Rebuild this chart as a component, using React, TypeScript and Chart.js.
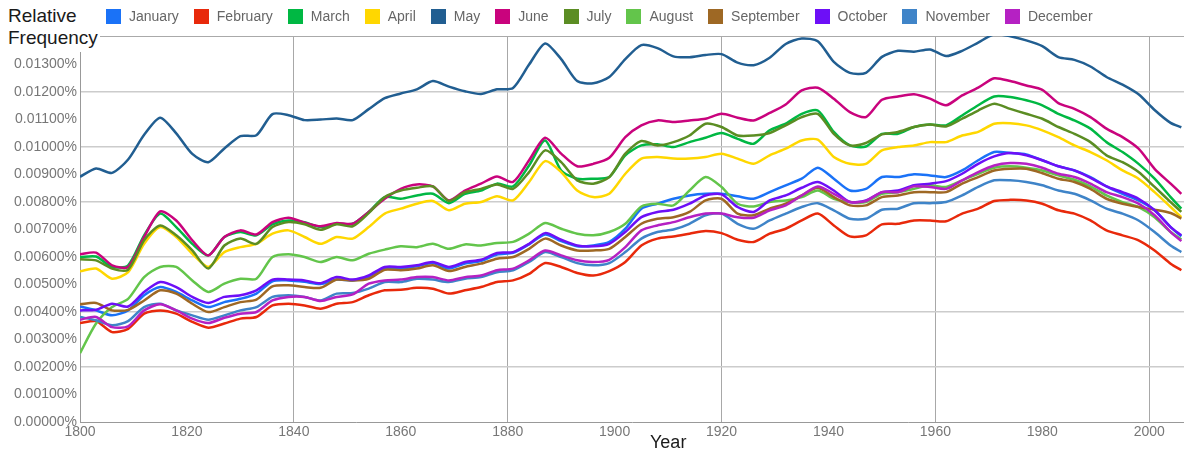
import React, { useEffect, useRef } from 'react';
import { Chart, registerables } from 'chart.js';

Chart.register(...registerables);

// Values are in units of 0.001 % (relative frequency)
const years = [1800,1803,1806,1809,1812,1815,1818,1821,1824,1827,1830,1833,1836,1839,1842,1845,1848,1851,1854,1857,1860,1863,1866,1869,1872,1875,1878,1881,1884,1887,1890,1893,1896,1899,1902,1905,1908,1911,1914,1917,1920,1923,1926,1929,1932,1935,1938,1941,1944,1947,1950,1953,1956,1959,1962,1965,1968,1971,1974,1977,1980,1983,1986,1989,1992,1995,1998,2001,2004,2006];

const january = [4.2,4.06,3.88,4.06,4.61,4.91,4.73,4.42,4.18,4.36,4.48,4.67,5.12,5.15,5.1,5.02,5.18,5.15,
  5.27,5.58,5.58,5.66,5.78,5.58,5.76,5.85,6.09,6.15,6.46,6.82,6.58,6.39,6.42,6.55,7.03,
  7.76,7.94,8.12,8.24,8.3,8.3,8.21,8.12,8.36,8.61,8.85,9.25,8.85,8.42,8.48,8.91,8.91,9.01,
  8.97,8.91,9.15,9.52,9.82,9.78,9.73,9.52,9.3,9.15,8.91,8.57,8.3,8.06,7.7,7.09,6.75];
const february = [3.6,3.67,3.27,3.39,3.94,4.06,3.94,3.64,3.43,3.58,3.76,3.82,4.24,4.3,4.24,4.12,4.3,4.36,
  4.61,4.79,4.81,4.88,4.85,4.67,4.79,4.91,5.09,5.15,5.39,5.78,5.64,5.42,5.33,5.49,5.82,
  6.42,6.67,6.75,6.85,6.95,6.87,6.63,6.55,6.85,7.03,7.33,7.58,7.15,6.75,6.79,7.19,7.21,7.33,
  7.33,7.3,7.58,7.76,8.04,8.08,8.06,7.94,7.7,7.58,7.33,6.97,6.79,6.61,6.24,5.76,5.52];
const march = [6.0,6.02,5.64,5.7,6.79,7.58,7.09,6.48,6.06,6.73,6.91,6.79,7.19,7.33,7.27,7.09,7.21,7.21,
  7.64,8.18,8.12,8.24,8.3,7.96,8.3,8.42,8.67,8.57,9.33,10.24,9.15,8.85,8.85,8.91,9.7,
  10.06,10.1,10.0,10.18,10.34,10.51,10.3,10.12,10.61,10.85,11.21,11.33,10.55,10.06,10.02,10.48,10.48,10.73,
  10.82,10.79,11.15,11.52,11.84,11.82,11.7,11.52,11.21,10.97,10.67,10.18,9.82,9.39,8.85,8.18,7.76];
const april = [5.48,5.58,5.21,5.45,6.48,7.09,6.73,6.12,5.64,6.18,6.36,6.48,6.85,6.97,6.73,6.48,6.73,6.67,
  7.09,7.58,7.76,7.94,8.04,7.7,7.94,8.0,8.21,8.06,8.73,9.49,9.09,8.42,8.18,8.3,9.03,
  9.58,9.64,9.58,9.58,9.64,9.76,9.58,9.39,9.7,9.94,10.24,10.27,9.64,9.39,9.39,9.88,10.0,10.06,
  10.18,10.18,10.42,10.55,10.85,10.87,10.79,10.61,10.36,10.06,9.82,9.52,9.15,8.85,8.36,7.82,7.45];
const may = [8.92,9.22,9.06,9.55,10.45,11.07,10.5,9.75,9.45,9.95,10.4,10.43,11.2,11.16,10.98,11.0,11.04,10.98,
  11.38,11.78,11.95,12.1,12.4,12.2,12.03,11.93,12.1,12.15,13.0,13.77,13.2,12.4,12.32,12.55,13.2,
  13.71,13.6,13.3,13.27,13.35,13.38,13.07,12.98,13.25,13.75,13.95,13.85,13.1,12.7,12.7,13.28,13.5,13.47,
  13.55,13.31,13.5,13.8,14.1,14.03,13.88,13.67,13.27,13.17,12.93,12.55,12.27,11.92,11.35,10.88,10.72];
const june = [6.1,6.16,5.7,5.64,6.73,7.66,7.33,6.61,6.06,6.73,6.97,6.82,7.27,7.43,7.25,7.12,7.24,7.21,
  7.64,8.12,8.48,8.64,8.57,8.06,8.42,8.67,8.93,8.73,9.52,10.34,9.76,9.3,9.39,9.61,10.36,
  10.79,10.97,10.91,10.97,11.03,11.21,11.07,10.97,11.24,11.55,12.06,12.16,11.76,11.27,11.09,11.72,11.84,11.92,
  11.76,11.52,11.88,12.16,12.5,12.4,12.24,12.08,11.6,11.39,11.09,10.67,10.36,9.94,9.21,8.67,8.3];
const july = [5.92,5.88,5.58,5.54,6.61,7.15,6.79,6.24,5.58,6.42,6.67,6.48,7.09,7.27,7.19,6.99,7.19,7.12,
  7.6,8.18,8.42,8.52,8.57,8.04,8.36,8.48,8.64,8.48,9.09,9.88,9.45,8.79,8.67,8.91,9.76,
  10.22,10.06,10.18,10.42,10.85,10.73,10.42,10.42,10.51,10.79,11.09,11.21,10.48,10.06,10.15,10.46,10.55,10.73,
  10.82,10.75,11.03,11.33,11.58,11.39,11.21,11.03,10.73,10.48,10.18,9.7,9.45,9.09,8.55,8.0,7.64];
const august = [2.5,3.58,4.18,4.48,5.27,5.64,5.64,5.15,4.73,5.03,5.21,5.21,6.0,6.1,6.0,5.82,6.0,5.88,
  6.12,6.27,6.39,6.36,6.48,6.3,6.46,6.42,6.51,6.55,6.85,7.24,7.03,6.85,6.79,6.91,7.21,
  7.84,7.94,7.88,8.42,8.91,8.55,7.94,7.84,8.0,8.06,8.18,8.42,8.12,8.0,8.0,8.3,8.36,8.48,
  8.61,8.55,8.79,9.03,9.25,9.3,9.25,9.15,8.97,8.81,8.57,8.24,8.0,7.82,7.45,6.91,6.64];
const september = [4.28,4.33,4.06,4.08,4.42,4.79,4.67,4.3,4.0,4.18,4.36,4.45,4.93,4.97,4.91,4.88,5.18,5.15,
  5.21,5.54,5.52,5.58,5.7,5.49,5.64,5.76,5.94,6.0,6.3,6.67,6.42,6.24,6.24,6.3,6.73,
  7.21,7.39,7.45,7.64,8.06,8.12,7.58,7.52,7.76,7.94,8.24,8.52,8.18,7.88,7.88,8.18,8.24,8.36,
  8.36,8.36,8.67,8.91,9.15,9.21,9.21,9.05,8.85,8.73,8.48,8.12,7.94,7.82,7.72,7.6,7.4];
const october = [4.06,4.08,4.3,4.2,4.73,5.09,4.91,4.55,4.33,4.55,4.61,4.79,5.18,5.18,5.15,5.05,5.27,5.18,
  5.33,5.64,5.64,5.7,5.82,5.64,5.82,5.9,6.15,6.18,6.48,6.87,6.63,6.42,6.39,6.48,6.91,
  7.45,7.64,7.72,7.94,8.24,8.28,7.82,7.64,8.06,8.24,8.52,8.73,8.42,8.0,8.06,8.36,8.42,8.61,
  8.67,8.76,9.03,9.39,9.66,9.78,9.7,9.52,9.3,9.15,8.88,8.57,8.36,8.12,7.7,7.09,6.79];
const november = [3.82,3.7,3.52,3.67,4.18,4.3,4.06,3.88,3.72,3.88,4.06,4.18,4.55,4.61,4.55,4.42,4.67,4.69,
  4.85,5.09,5.09,5.21,5.18,5.09,5.21,5.27,5.45,5.52,5.82,6.18,6.0,5.78,5.7,5.78,6.18,
  6.67,6.91,7.0,7.21,7.52,7.58,7.21,7.03,7.33,7.58,7.82,7.96,7.7,7.39,7.39,7.72,7.76,7.96,
  7.96,8.0,8.24,8.55,8.79,8.79,8.73,8.61,8.42,8.3,8.06,7.76,7.58,7.33,6.91,6.42,6.18];
const december = [3.72,3.82,3.45,3.48,4.06,4.28,4.06,3.76,3.6,3.79,3.94,4.0,4.42,4.55,4.55,4.4,4.55,4.64,
  5.03,5.15,5.18,5.27,5.27,5.15,5.27,5.33,5.52,5.58,5.88,6.24,6.06,5.88,5.82,5.9,6.36,
  6.97,7.15,7.27,7.45,7.58,7.58,7.45,7.43,7.7,7.88,8.24,8.57,8.3,8.0,8.04,8.36,8.36,8.57,
  8.55,8.48,8.79,9.09,9.33,9.42,9.39,9.25,9.03,8.91,8.67,8.36,8.18,7.94,7.52,6.91,6.58];

const seriesNames = ['January','February','March','April','May','June','July','August','September','October','November','December'];
const seriesColors = ['#1a72f7','#e8290b','#00b843','#ffd700','#215e91','#c9037d','#5b8d23','#63c54b','#9e6824','#6d0ff7','#3f84c8','#b521c3'];
const xTickYears = [1800,1820,1840,1860,1880,1900,1920,1940,1960,1980,2000];
const yTickThousandths = [0,1,2,3,4,5,6,7,8,9,10,11,12,13];

const FONT = 'Arial, "Liberation Sans", sans-serif';

const topBorder = {
  id: 'topBorder',
  beforeDatasetsDraw(chart: any) {
    const { ctx, chartArea } = chart;
    ctx.save();
    ctx.strokeStyle = '#aaaaaa';
    ctx.lineWidth = 1;
    ctx.beginPath();
    ctx.moveTo(chartArea.left, chartArea.top + 0.5);
    ctx.lineTo(chartArea.right, chartArea.top + 0.5);
    ctx.stroke();
    ctx.restore();
  },
};

export default function App() {
  const ref = useRef<HTMLCanvasElement>(null);

  useEffect(() => {
    document.body.style.margin = '0';
    const all = [january, february, march, april, may, june, july, august, september, october, november, december];
    const chart = new Chart(ref.current as HTMLCanvasElement, {
      type: 'line',
      data: {
        datasets: all.map((vals, i) => ({
          label: seriesNames[i],
          data: years.map((x, j) => ({ x, y: vals[j] / 1000 })),
          borderColor: seriesColors[i],
          backgroundColor: seriesColors[i],
          borderWidth: 2.5,
          pointRadius: 0,
          tension: 0.25,
          fill: false,
          order: 12 - i,
        })),
      },
      options: {
        animation: false,
        responsive: false,
        maintainAspectRatio: false,
        devicePixelRatio: 1,
        layout: { padding: { top: 36, left: 0, right: 0, bottom: 0 } },
        plugins: { legend: { display: false }, tooltip: { enabled: false }, title: { display: false } },
        scales: {
          x: {
            type: 'linear',
            min: 1800,
            max: 2006.5,
            afterBuildTicks: (s: any) => { s.ticks = xTickYears.map((v) => ({ value: v })); },
            afterFit: (s: any) => { s.height = 29; },
            ticks: {
              callback: (v: any) => String(v),
              color: '#777777',
              font: { family: FONT, size: 14 },
              padding: 2,
              maxRotation: 0,
              autoSkip: false,
            },
            grid: {
              drawTicks: false,
              lineWidth: 1,
              color: (c: any) => (c.tick && c.tick.value % 40 === 0 && c.tick.value !== 1800 ? '#a8a8a8' : 'rgba(0,0,0,0)'),
            },
            border: { display: true, color: '#999999', width: 1 },
          },
          y: {
            min: 0,
            max: 0.01404,
            afterBuildTicks: (s: any) => { s.ticks = yTickThousandths.map((v) => ({ value: v / 1000 })); },
            afterFit: (s: any) => { s.width = 80; },
            ticks: {
              callback: (v: any) => Number(v).toFixed(5) + '%',
              color: '#777777',
              font: { family: FONT, size: 14 },
              padding: 3,
              autoSkip: false,
            },
            grid: {
              drawTicks: false,
              lineWidth: 1.5,
              color: (c: any) => {
                const k = Math.round(c.tick.value * 1000);
                return k > 0 && k % 2 === 0 ? '#cccccc' : 'rgba(0,0,0,0)';
              },
            },
            border: { display: true, color: '#999999', width: 1 },
          },
        },
      },
      plugins: [topBorder],
    });
    return () => chart.destroy();
  }, []);

  return (
    <div style={{ position: 'relative', width: 1184, height: 451, fontFamily: FONT, overflow: 'hidden' }}>
      <canvas ref={ref} width={1184} height={451} style={{ position: 'absolute', left: 0, top: 0, width: 1184, height: 451 }} />
      <div
        style={{
          position: 'absolute', left: 0, top: 0, paddingLeft: 8, paddingTop: 5, paddingRight: 2, paddingBottom: 3,
          background: '#ffffff', color: '#1a1a1a', fontSize: 19, lineHeight: '22px',
        }}
      >
        <div>Relative</div>
        <div>Frequency</div>
      </div>
      <div style={{ position: 'absolute', left: 106, top: 9, display: 'flex', alignItems: 'center', height: 15 }}>
        {seriesNames.map((n, i) => (
          <div key={n} style={{ display: 'flex', alignItems: 'center', marginRight: 15 }}>
            <span style={{ display: 'inline-block', width: 15, height: 15, background: seriesColors[i], marginRight: 8 }} />
            <span style={{ color: '#666666', fontSize: 14, lineHeight: '15px', whiteSpace: 'nowrap' }}>{n}</span>
          </div>
        ))}
      </div>
      <div style={{ position: 'absolute', left: 650, top: 431, color: '#1a1a1a', fontSize: 18, lineHeight: '22px' }}>Year</div>
    </div>
  );
}
